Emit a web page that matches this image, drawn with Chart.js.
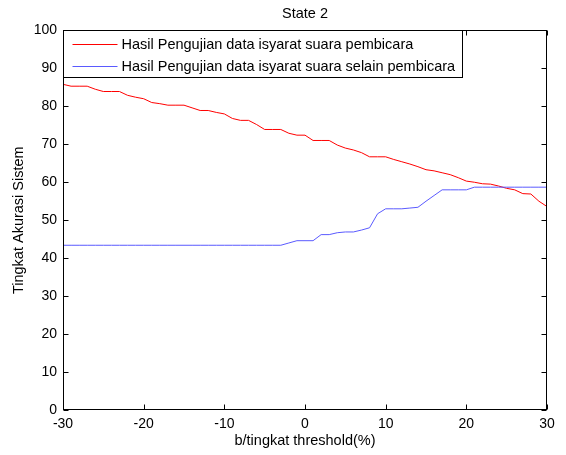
<!DOCTYPE html>
<html>
<head>
<meta charset="utf-8">
<script src="https://cdn.jsdelivr.net/npm/chart.js@4.4.0/dist/chart.umd.min.js"></script>
<style>
  html, body { margin: 0; padding: 0; background: #fff; }
  canvas { display: block; }
</style>
</head>
<body>
<canvas id="c" width="566" height="455"></canvas>
<script>
const thresholds = [-30,-29,-28,-27,-26,-25,-24,-23,-22,-21,-20,-19,-18,-17,-16,-15,-14,-13,-12,-11,-10,-9,-8,-7,-6,-5,-4,-3,-2,-1,0,1,2,3,4,5,6,7,8,9,10,11,12,13,14,15,16,17,18,19,20,21,22,23,24,25,26,27,28,29,30];
const speakerAccuracy = [85.8,85.3,85.3,85.3,84.5,83.9,83.9,83.9,82.9,82.4,82.0,81.0,80.7,80.3,80.3,80.3,79.6,78.9,78.9,78.4,78.0,76.8,76.3,76.3,75.2,73.9,73.9,73.9,72.9,72.4,72.4,71.0,71.0,71.0,69.8,69.0,68.5,67.8,66.7,66.7,66.7,66.0,65.4,64.8,64.1,63.3,63.0,62.5,62.0,61.2,60.3,60.0,59.6,59.5,59.0,58.4,58.0,57.0,56.9,55.0,53.6];
const otherAccuracy = [43.4,43.4,43.4,43.4,43.4,43.4,43.4,43.4,43.4,43.4,43.4,43.4,43.4,43.4,43.4,43.4,43.4,43.4,43.4,43.4,43.4,43.4,43.4,43.4,43.4,43.4,43.4,43.4,44.0,44.6,44.6,44.6,46.2,46.2,46.7,46.9,46.9,47.4,48.0,51.7,53.0,53.0,53.0,53.2,53.4,55.0,56.5,58.0,58.0,58.0,58.0,58.7,58.7,58.7,58.7,58.7,58.7,58.7,58.7,58.7,58.7];
const seriesLabels = ['Hasil Pengujian data isyarat suara pembicara', 'Hasil Pengujian data isyarat suara selain pembicara'];
const xTicks = [-30,-20,-10,0,10,20,30];
const yTicks = [0,10,20,30,40,50,60,70,80,90,100];

const FONT = '"Liberation Sans", Arial, Helvetica, sans-serif';

const framePlugin = {
  id: 'frame',
  afterDatasetsDraw(chart) {
    const {ctx, chartArea: a, scales: {x, y}} = chart;
    const L = Math.round(a.left) + 0.5, R = Math.round(a.right) - 0.5;
    const T = Math.round(a.top) + 0.5, B = Math.round(a.bottom) - 0.5;
    ctx.save();
    ctx.strokeStyle = '#000';
    ctx.lineWidth = 1;
    ctx.beginPath();
    x.ticks.forEach(t => {
      const px = Math.round(x.getPixelForValue(t.value)) + 0.5;
      ctx.moveTo(px, B); ctx.lineTo(px, B - 5);
      ctx.moveTo(px, T); ctx.lineTo(px, T + 5);
    });
    y.ticks.forEach(t => {
      const py = Math.round(y.getPixelForValue(t.value)) + 0.5;
      ctx.moveTo(L, py); ctx.lineTo(L + 5, py);
      ctx.moveTo(R, py); ctx.lineTo(R - 5, py);
    });
    ctx.stroke();
    ctx.strokeRect(L, T, R - L, B - T);
    ctx.restore();
  }
};

const boxLegendPlugin = {
  id: 'boxLegend',
  afterDraw(chart) {
    const {ctx, chartArea: a} = chart;
    const ds = chart.data.datasets;
    ctx.save();
    ctx.font = '14.5px ' + FONT;
    const lineStart = 9, lineLen = 45, textOff = 58;
    let maxW = 0;
    ds.forEach(d => { maxW = Math.max(maxW, ctx.measureText(d.label).width); });
    const L = Math.round(a.left) + 0.5, T = Math.round(a.top) + 0.5;
    const W = Math.round(textOff + maxW + 7), H = 47;
    ctx.fillStyle = '#fff';
    ctx.fillRect(L, T, W, H);
    ctx.strokeStyle = '#000';
    ctx.lineWidth = 1;
    ctx.strokeRect(L, T, W, H);
    ds.forEach((d, i) => {
      const yy = Math.round(T + 13 + i * 22.4) + 0.5;
      ctx.strokeStyle = d.borderColor;
      ctx.lineWidth = d.borderWidth;
      ctx.beginPath();
      ctx.moveTo(L + lineStart, yy);
      ctx.lineTo(L + lineStart + lineLen, yy);
      ctx.stroke();
      ctx.fillStyle = '#000';
      ctx.textBaseline = 'middle';
      ctx.textAlign = 'left';
      ctx.fillText(d.label, L + textOff, yy);
    });
    ctx.restore();
  }
};

new Chart(document.getElementById('c'), {
  type: 'line',
  data: {
    datasets: [
      {
        label: seriesLabels[0],
        data: thresholds.map((t, i) => ({x: t, y: speakerAccuracy[i]})),
        borderColor: '#ff0000',
        borderWidth: 1,
        pointRadius: 0,
        tension: 0,
        fill: false,
        order: 1
      },
      {
        label: seriesLabels[1],
        data: thresholds.map((t, i) => ({x: t, y: otherAccuracy[i]})),
        borderColor: '#5a5aff',
        borderWidth: 1,
        pointRadius: 0,
        tension: 0,
        fill: false,
        order: 0
      }
    ]
  },
  options: {
    responsive: false,
    animation: false,
    layout: { padding: { left: 0, right: 19, top: 0, bottom: 0 } },
    plugins: {
      legend: { display: false },
      tooltip: { enabled: false },
      title: {
        display: true,
        text: 'State 2',
        fullSize: false,
        color: '#000',
        font: { family: FONT, size: 14.5, weight: 'normal' },
        padding: { top: 5, bottom: 8 }
      }
    },
    scales: {
      x: {
        type: 'linear',
        min: -30, max: 30,
        afterFit(s) { s.height = 45; },
        afterBuildTicks(s) { s.ticks = xTicks.map(v => ({value: v})); },
        grid: { display: false, drawTicks: false },
        border: { display: false },
        ticks: { color: '#000', font: { family: FONT, size: 14 }, padding: 6, maxRotation: 0 },
        title: {
          display: true,
          text: 'b/tingkat threshold(%)',
          color: '#000',
          font: { family: FONT, size: 14.5 },
          padding: { top: 0, bottom: 5 }
        }
      },
      y: {
        min: 0, max: 100,
        afterFit(s) { s.width = 63; },
        afterBuildTicks(s) { s.ticks = yTicks.map(v => ({value: v})); },
        grid: { display: false, drawTicks: false },
        border: { display: false },
        ticks: { color: '#000', font: { family: FONT, size: 14 }, padding: 6 },
        title: {
          display: true,
          text: 'Tingkat Akurasi Sistem',
          color: '#000',
          font: { family: FONT, size: 14.5 },
          padding: { top: 10, bottom: 0 }
        }
      }
    }
  },
  plugins: [framePlugin, boxLegendPlugin]
});
</script>
</body>
</html>
